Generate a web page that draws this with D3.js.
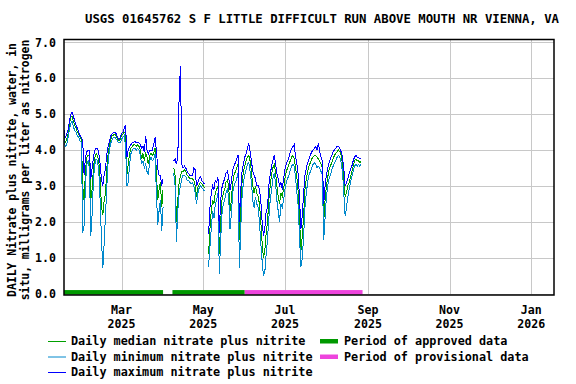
<!DOCTYPE html>
<html>
<head>
<meta charset="utf-8">
<script src="https://cdn.jsdelivr.net/npm/d3@7"></script>
<style>
  body { margin: 0; background: #fff; }
  text { font-family: "DejaVu Sans Mono", monospace; font-weight: bold; fill: #000; }
</style>
</head>
<body>
<div id="chart"></div>
<script>
// Daily values starting on startDate, one per day (null = no data)
const startDate = "2025-01-17";

const minValues = [
  4.3,4.1,4.15,4.35,4.55,4.75,4.8,4.65,4.55,4.5,4.4,4.35,4.25,4.2,
  1.7,1.9,3.0,3.6,3.7,3.5,1.6,2.2,3.2,3.6,3.75,3.7,3.4,2.6,
  1.5,0.7,1.4,2.2,3.0,3.7,4.0,4.2,4.3,4.35,4.35,4.3,4.25,4.2,
  4.2,4.3,4.35,4.4,4.1,3.0,3.1,3.6,3.9,4.0,4.05,4.05,4.0,4.05,
  4.0,3.85,3.6,3.7,3.5,3.6,3.4,3.3,3.7,3.8,3.7,3.75,3.9,2.8,
  1.9,2.3,2.6,1.75,2.4,
  null,null,null,null,null,null,null,
  3.35,3.0,1.45,2.3,2.8,3.0,3.2,3.3,3.3,3.25,3.15,3.15,3.1,3.05,
  3.1,3.0,2.8,2.5,2.8,2.95,3.0,2.95,2.9,2.85,
  null,null,
  0.75,1.3,1.8,2.3,2.1,2.5,2.6,2.8,0.55,1.5,2.2,2.5,2.6,2.8,
  2.9,2.7,1.8,2.2,2.8,3.0,3.1,3.2,3.35,0.7,1.8,2.7,3.1,3.3,
  3.45,3.6,3.65,3.4,3.1,2.6,2.4,2.7,2.5,2.4,2.0,1.4,0.9,0.5,
  0.6,1.1,1.5,2.1,2.6,2.9,3.2,3.35,3.1,2.6,2.3,2.0,2.5,2.4,
  2.6,2.9,3.1,3.2,3.3,3.45,3.55,3.6,3.55,3.2,2.8,2.4,1.5,0.75,
  1.0,1.6,2.4,2.8,3.1,3.3,3.4,3.5,3.6,3.65,3.6,3.5,3.55,3.5,
  3.4,3.3,1.5,2.1,2.7,3.0,3.2,3.3,3.45,3.55,3.65,3.7,3.8,3.85,
  3.8,3.65,3.4,2.8,2.15,2.4,2.7,2.9,3.1,3.25,3.4,3.55,3.6,3.55,
  3.6,3.55,3.6
];

const medianValues = [
  4.45,4.2,4.3,4.45,4.7,4.9,4.95,4.8,4.7,4.6,4.5,4.45,4.35,4.3,
  3.0,2.6,3.4,3.8,3.85,3.85,2.6,2.9,3.5,3.8,3.9,3.85,3.7,3.2,
  2.4,2.2,2.6,2.8,3.5,3.9,4.15,4.3,4.4,4.42,4.45,4.4,4.3,4.25,
  4.3,4.4,4.45,4.5,4.45,3.3,3.6,3.9,4.05,4.1,4.15,4.15,4.1,4.15,
  4.1,4.0,3.75,3.9,3.7,3.9,3.8,3.6,3.85,3.9,3.85,3.9,4.05,3.4,
  2.6,2.9,3.1,2.4,2.9,
  null,null,null,null,null,null,null,
  3.5,3.3,2.0,2.6,3.1,3.3,3.4,3.4,3.45,3.4,3.3,3.25,3.2,3.2,
  3.2,3.15,3.0,2.7,2.95,3.05,3.1,3.05,3.0,2.95,
  null,null,
  1.1,1.8,2.3,2.6,2.5,2.8,2.9,3.0,1.1,2.0,2.6,2.8,2.9,3.1,
  3.15,3.0,2.3,2.6,3.1,3.3,3.4,3.5,3.6,1.5,2.5,3.1,3.4,3.55,
  3.7,3.8,3.85,3.7,3.4,3.0,2.8,3.0,2.8,2.7,2.5,2.0,1.4,1.0,
  1.2,1.7,2.0,2.6,3.0,3.3,3.5,3.6,3.4,3.0,2.7,2.5,2.8,2.7,
  2.9,3.2,3.4,3.5,3.6,3.7,3.8,3.85,3.75,3.5,3.2,2.8,2.0,1.2,
  1.6,2.2,2.9,3.2,3.4,3.55,3.65,3.75,3.8,3.85,3.85,3.8,3.75,3.7,
  3.6,3.5,2.0,2.6,3.0,3.25,3.45,3.55,3.65,3.75,3.85,3.9,3.95,4.0,
  3.95,3.85,3.6,3.2,2.7,2.8,3.0,3.1,3.25,3.4,3.55,3.7,3.75,3.7,
  3.7,3.65,3.68
];

const maxValues = [
  4.55,4.35,4.45,4.55,4.8,5.0,5.05,4.95,4.8,4.7,4.6,4.5,4.4,4.35,
  4.25,3.3,3.8,3.95,4.0,4.0,3.2,3.5,3.8,4.0,4.05,4.05,3.9,3.6,
  3.2,3.0,3.3,3.5,3.9,4.1,4.25,4.4,4.45,4.5,4.5,4.45,4.35,4.3,
  4.35,4.45,4.5,4.6,4.7,3.8,4.0,4.1,4.15,4.2,4.2,4.25,4.2,4.2,
  4.2,4.15,4.05,4.1,3.95,4.4,4.0,3.9,4.0,4.0,4.0,4.15,4.35,4.0,
  3.5,3.3,3.3,3.0,3.2,
  null,null,null,null,null,null,null,
  3.7,3.75,3.6,3.8,5.5,6.35,3.6,3.5,3.55,3.5,3.4,3.35,3.3,3.3,
  3.3,3.5,3.45,3.0,3.1,3.2,3.25,3.15,3.1,3.05,
  null,null,
  1.65,2.4,2.8,3.0,2.9,3.15,3.1,3.25,1.7,2.6,2.95,3.1,3.2,3.35,
  3.4,3.25,2.9,3.1,3.45,3.55,3.65,3.75,3.85,2.0,2.9,3.4,3.6,3.8,
  3.9,4.05,4.2,3.95,3.7,3.4,3.3,3.2,3.0,3.0,2.9,2.6,2.0,1.6,
  1.8,2.3,2.4,3.0,3.3,3.55,3.7,3.85,3.65,3.35,3.2,3.0,3.1,2.9,
  3.2,3.45,3.6,3.7,3.8,3.95,4.05,4.1,4.15,3.8,3.6,3.3,2.6,1.8,
  2.2,2.8,3.3,3.5,3.65,3.75,3.85,3.95,4.0,4.05,4.1,4.0,4.2,3.95,
  3.8,3.7,2.5,3.0,3.3,3.5,3.65,3.75,3.85,3.95,4.0,4.05,4.1,4.1,
  4.05,3.95,3.8,3.5,3.0,3.1,3.2,3.35,3.45,3.55,3.7,3.8,3.85,3.8,
  3.8,3.75,3.78
];

// Approval periods
const periodStarts = ["2025-01-17", "2025-04-08", "2025-06-01"];
const periodEnds   = ["2025-04-01", "2025-06-01", "2025-08-28"];
const periodTypes  = ["approved", "approved", "provisional"];

// Axis ticks
const xTickDates = ["2025-03-01", "2025-05-01", "2025-07-01", "2025-09-01", "2025-11-01", "2026-01-01"];
const xTickLabels = ["Mar 2025", "May 2025", "Jul 2025", "Sep 2025", "Nov 2025", "Jan 2026"];
const yTicks = [0, 1, 2, 3, 4, 5, 6, 7];

const colors = {
  median: "#00a000",
  min: "#0088cc",
  max: "#0000ff",
  approved: "#009900",
  provisional: "#ee44dd"
};

const parseDate = d3.timeParse("%Y-%m-%d");
const start = parseDate(startDate);
const dates = medianValues.map((v, i) => d3.timeDay.offset(start, i));

const W = 576, H = 384;
const margin = { top: 39.5, right: 22, bottom: 89, left: 64 };

const svg = d3.select("#chart").append("svg")
  .attr("width", W)
  .attr("height", H);

const x = d3.scaleTime()
  .domain([parseDate("2025-01-17"), parseDate("2026-01-18")])
  .range([margin.left, W - margin.right]);

const y = d3.scaleLinear()
  .domain([-0.04, 7.08])
  .range([H - margin.bottom, margin.top]);

// Grid
svg.append("g")
  .selectAll("line")
  .data(yTicks)
  .enter().append("line")
  .attr("x1", margin.left).attr("x2", W - margin.right)
  .attr("y1", d => Math.round(y(d)) + 0.5).attr("y2", d => Math.round(y(d)) + 0.5)
  .attr("stroke", "#c8c8c8").attr("stroke-width", 1);

svg.append("g")
  .selectAll("line")
  .data(xTickDates)
  .enter().append("line")
  .attr("x1", d => Math.round(x(parseDate(d))) + 0.5).attr("x2", d => Math.round(x(parseDate(d))) + 0.5)
  .attr("y1", margin.top).attr("y2", H - margin.bottom)
  .attr("stroke", "#c8c8c8").attr("stroke-width", 1);

// Period bars
svg.append("g")
  .selectAll("rect")
  .data(periodStarts.map((s, i) => ({ s: parseDate(s), e: parseDate(periodEnds[i]), t: periodTypes[i] })))
  .enter().append("rect")
  .attr("x", d => x(d.s))
  .attr("width", d => x(d.e) - x(d.s))
  .attr("y", y(0) - 3.5)
  .attr("height", 4.5)
  .attr("fill", d => colors[d.t]);

// Lines
const line = d3.line()
  .defined(d => d[1] !== null)
  .x(d => x(d[0]))
  .y(d => y(d[1]));

const series = [
  { key: "median", values: medianValues },
  { key: "min", values: minValues },
  { key: "max", values: maxValues }
];

series.forEach(s => {
  svg.append("path")
    .datum(dates.map((dt, i) => [dt, s.values[i]]))
    .attr("d", line)
    .attr("fill", "none")
    .attr("stroke", colors[s.key])
    .attr("stroke-width", 1)
    .attr("shape-rendering", "crispEdges");
});

// Frame
svg.append("rect")
  .attr("x", margin.left).attr("y", margin.top)
  .attr("width", W - margin.left - margin.right)
  .attr("height", H - margin.top - margin.bottom)
  .attr("fill", "none")
  .attr("stroke", "#000")
  .attr("stroke-width", 1.5);

// Y tick labels
svg.append("g")
  .selectAll("text")
  .data(yTicks)
  .enter().append("text")
  .attr("x", 56)
  .attr("y", d => y(d))
  .attr("dy", "0.36em")
  .attr("text-anchor", "end")
  .style("font-size", "11.6px")
  .text(d => d.toFixed(1));

// X tick labels
const xLabels = svg.append("g")
  .selectAll("text")
  .data(xTickDates)
  .enter().append("text")
  .attr("x", d => x(parseDate(d)))
  .attr("text-anchor", "middle")
  .style("font-size", "11.6px");
xLabels.append("tspan")
  .attr("x", d => x(parseDate(d))).attr("y", 314)
  .text((d, i) => xTickLabels[i].split(" ")[0]);
xLabels.append("tspan")
  .attr("x", d => x(parseDate(d))).attr("y", 328)
  .text((d, i) => xTickLabels[i].split(" ")[1]);

// Title
svg.append("text")
  .attr("x", 85).attr("y", 23)
  .attr("textLength", 474)
  .attr("lengthAdjust", "spacingAndGlyphs")
  .style("font-size", "12.4px")
  .text("USGS 01645762 S F LITTLE DIFFICULT RUN ABOVE MOUTH NR VIENNA, VA");

// Y axis title
const yTitle = ["DAILY Nitrate plus nitrite, water, in", "situ, milligrams per liter as nitrogen"];
svg.append("g")
  .selectAll("text")
  .data(yTitle)
  .enter().append("text")
  .attr("transform", (d, i) => "translate(" + (15.5 + i * 13) + ",170) rotate(-90)")
  .attr("text-anchor", "middle")
  .style("font-size", "11.4px")
  .text(d => d);

// Legend
const legendLines = [
  { label: "Daily median nitrate plus nitrite", key: "median" },
  { label: "Daily minimum nitrate plus nitrite", key: "min" },
  { label: "Daily maximum nitrate plus nitrite", key: "max" }
];
const legendBars = [
  { label: "Period of approved data", key: "approved" },
  { label: "Period of provisional data", key: "provisional" }
];
const rowY = [341, 356.5, 372];

legendLines.forEach((d, i) => {
  svg.append("line")
    .attr("x1", 48).attr("x2", 66)
    .attr("y1", rowY[i] + 0.5).attr("y2", rowY[i] + 0.5)
    .attr("stroke", colors[d.key]).attr("stroke-width", 1);
  svg.append("text")
    .attr("x", 71).attr("y", rowY[i] + 4)
    .style("font-size", "11.8px")
    .text(d.label);
});

legendBars.forEach((d, i) => {
  svg.append("rect")
    .attr("x", 320).attr("y", rowY[i] - 2)
    .attr("width", 18).attr("height", 4.5)
    .attr("fill", colors[d.key]);
  svg.append("text")
    .attr("x", 344).attr("y", rowY[i] + 4)
    .style("font-size", "11.8px")
    .text(d.label);
});
</script>
</body>
</html>
